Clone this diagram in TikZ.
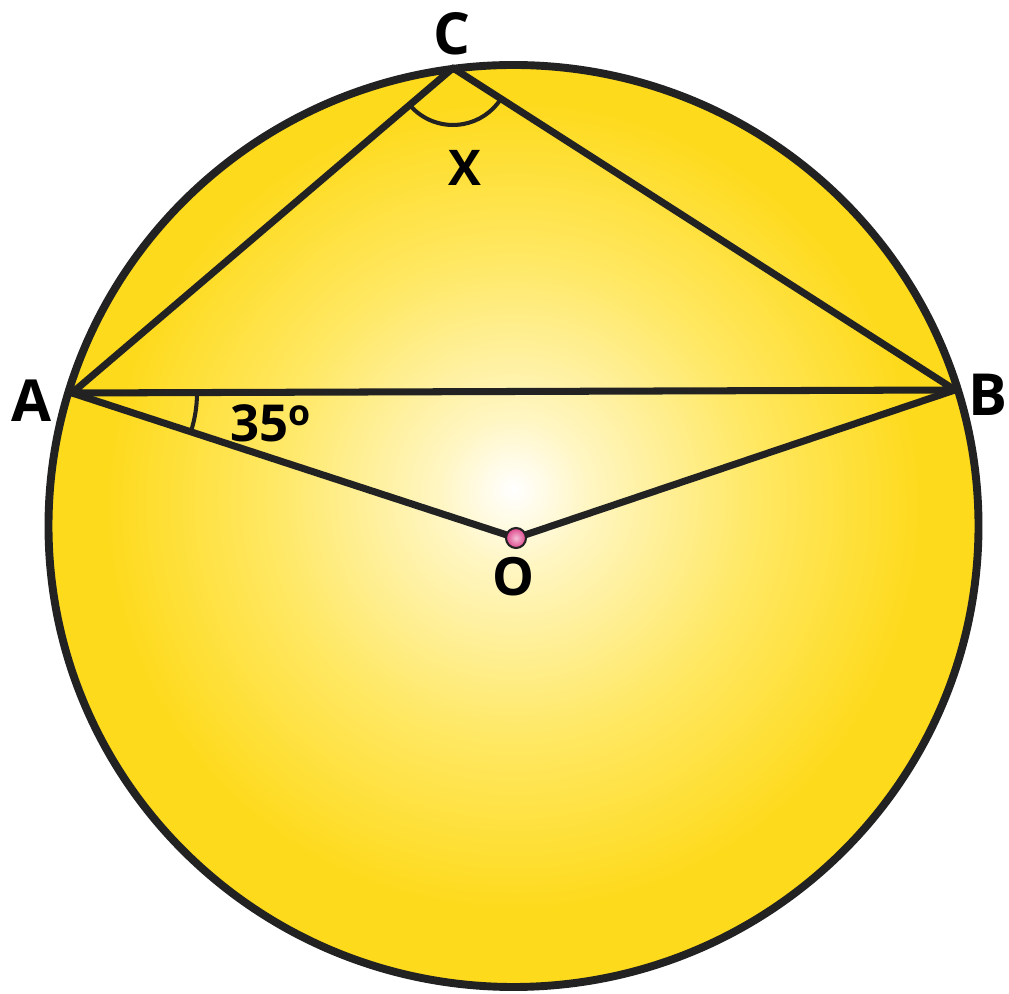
\documentclass[tikz,border=0pt]{standalone}
\usepackage{fontspec}
\setmainfont{Open Sans}
\usepackage{xcolor}
\usepackage{tikz}
\usetikzlibrary{angles,quotes,calc}

\definecolor{linegray}{RGB}{34,34,34}
\definecolor{sunpale}{RGB}{255,246,195}
\definecolor{sunmid}{RGB}{255,232,100}
\definecolor{sundeep}{RGB}{254,218,28}
\definecolor{dotpink}{RGB}{222,70,140}
\pgfdeclareradialshading{sunglow}{\pgfpoint{0bp}{2bp}}{%
  color(0bp)=(white); color(4bp)=(sunpale); color(13bp)=(sunmid);
  color(22bp)=(sundeep); color(50bp)=(sundeep)}

\begin{document}
\begin{tikzpicture}[x=0.2mm,y=0.2mm,
  edge/.style={line width=4pt,linegray,line join=round,line cap=round},
  lbl/.style={font=\fontsize{33}{36}\selectfont\bfseries,inner sep=0pt},
  odot/.style={circle,draw=linegray,line width=1.2pt,inner sep=0pt,
               minimum size=4mm,inner color=dotpink!35!white,outer color=dotpink}]
  \useasboundingbox (0,0) rectangle (1009,993);

  \shade[shading=sunglow] (513.5,467) ellipse [x radius=465,y radius=461];

  \coordinate (A) at (72,600);
  \coordinate (B) at (955,603);
  \coordinate (C) at (453,925);
  \coordinate (O) at (516,455);

  \draw[edge] (A) -- (B) -- (C) -- cycle;
  \draw[edge] (A) -- (O) -- (B);
  \draw[line width=4.5pt,linegray] (513.5,467) ellipse [x radius=465,y radius=461];

  \pic[draw=linegray,line width=2.3pt,angle radius=25mm] {angle=O--A--B};
  \pic[draw=linegray,line width=2.3pt,angle radius=11.4mm] {angle=A--C--B};

  \node[odot] (Odot) at (O) {};
  \node[lbl] (labA) at (32,592) {A};
  \node[lbl] (labB) at (988,598) {B};
  \node[lbl] (labC) at (452,959) {C};
  \node[lbl,font=\fontsize{30}{33}\selectfont\bfseries] (labO) at (513,416) {O};
  \node[lbl,font=\fontsize{28}{31}\selectfont\bfseries] (labX) at (465,825) {X};
  \node[lbl,font=\fontsize{29}{32}\selectfont\bfseries] (labAng) at (271,570) {35\textsuperscript{o}};
\end{tikzpicture}
\end{document}
